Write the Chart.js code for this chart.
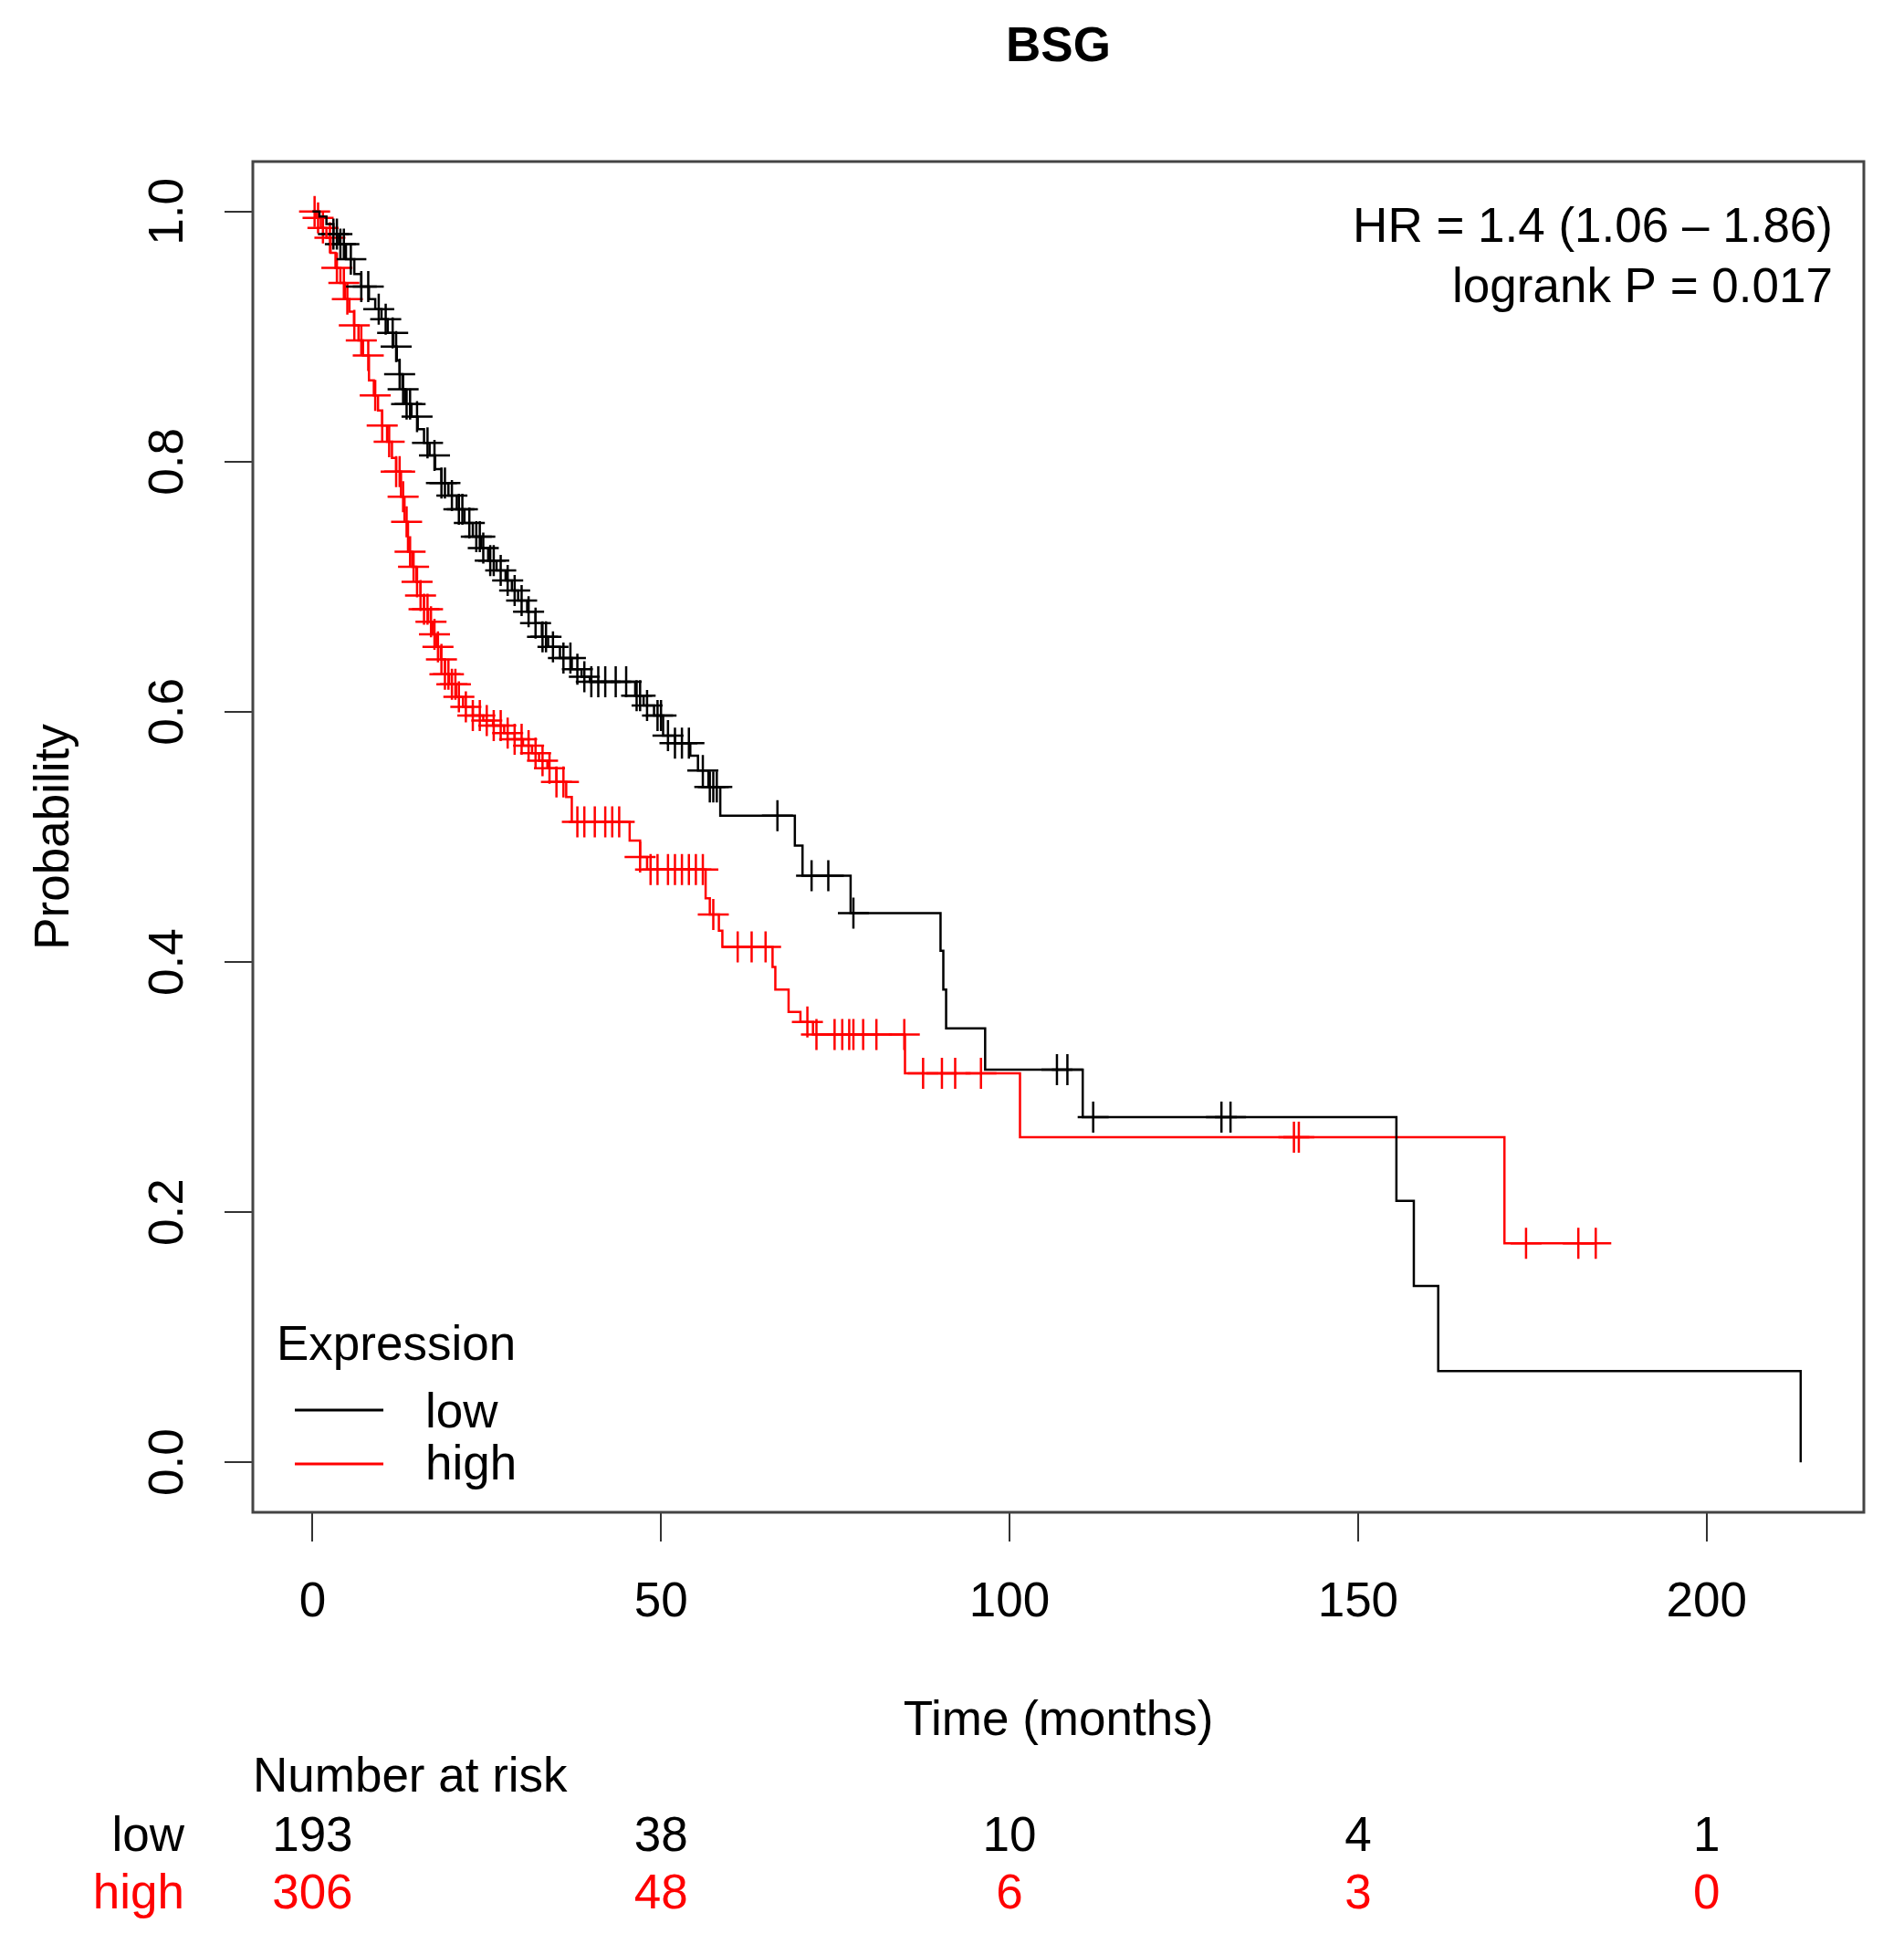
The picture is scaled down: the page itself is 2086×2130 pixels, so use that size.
<!DOCTYPE html>
<html lang="en">
<head>
<meta charset="UTF-8">
<title>BSG survival</title>
<script src="https://cdn.jsdelivr.net/npm/chart.js"></script>
<style>
  html, body { margin: 0; padding: 0; background: #fff; }
  canvas { display: block; }
</style>
</head>
<body>
<canvas id="km" width="2086" height="2130" style="width:2086px;height:2130px"></canvas>
<script>
// Kaplan-Meier steps (time in months, survival after the drop)
const lowTime = [0, 1, 2, 3, 3.8, 4.8, 6, 7, 8.1, 9, 9.9, 10.8, 11.6, 12.1, 12.5, 12.9, 13.3, 14.2, 15.1, 16, 16.8, 17.6, 18.5, 19.5, 20.7, 21.8, 23, 24.2, 25.2, 26.4, 27.7, 28.6, 29.5, 30.8, 32, 32.9, 33.8, 35.5, 37.2, 38.6, 39.8, 46.3, 47.5, 49, 50.3, 52, 54.2, 55.3, 56.8, 58.5, 69.2, 70.3, 77.2, 90.1, 90.5, 90.9, 96.5, 110.5, 155.5, 158, 161.5, 213.5];
const lowSurv = [1, 0.996, 0.99, 0.982, 0.974, 0.962, 0.95, 0.94, 0.93, 0.922, 0.914, 0.903, 0.892, 0.881, 0.87, 0.858, 0.846, 0.836, 0.826, 0.815, 0.805, 0.794, 0.783, 0.773, 0.762, 0.751, 0.74, 0.731, 0.721, 0.713, 0.705, 0.697, 0.689, 0.68, 0.671, 0.66, 0.652, 0.643, 0.634, 0.628, 0.624, 0.613, 0.605, 0.597, 0.581, 0.575, 0.565, 0.553, 0.54, 0.517, 0.493, 0.469, 0.439, 0.409, 0.378, 0.347, 0.314, 0.276, 0.209, 0.141, 0.073, 0];
const lowCensor = [3, 3.5, 4, 4.5, 5.5, 7, 8, 9.5, 10.5, 11.5, 12, 12.5, 13, 13.5, 14, 15, 16.5, 17.5, 18.5, 19, 20, 21, 21.5, 22.5, 23.5, 24, 24.5, 25.5, 26, 27, 28, 29, 30, 31, 32, 33, 33.5, 34.5, 36, 37, 38, 39, 40, 41, 42, 43.5, 45, 46.5, 47, 48, 49.5, 50, 51, 52, 53, 54, 56, 57, 57.5, 58, 66.7, 71.6, 74, 77.6, 106.8, 108.3, 112, 130.4, 131.7];

const highTime = [0, 0.5, 1.2, 2, 2.6, 3.3, 4, 4.65, 5.3, 5.95, 6.6, 7.25, 8.1, 8.8, 9.4, 10, 10.7, 11.4, 12, 12.7, 13.2, 13.7, 14.3, 14.9, 15.5, 16, 16.6, 17.2, 17.8, 18.4, 19, 19.6, 20.6, 21.6, 23, 24.5, 25.9, 27.5, 29, 30.2, 31.5, 32.5, 33.7, 35, 36.4, 37.2, 45.5, 47, 48, 56.4, 57, 58.3, 58.8, 66, 66.4, 68.3, 70, 71.8, 85, 101.5, 171];
const highSurv = [1, 0.995, 0.987, 0.979, 0.967, 0.955, 0.943, 0.93, 0.92, 0.909, 0.897, 0.885, 0.865, 0.853, 0.841, 0.829, 0.816, 0.803, 0.792, 0.772, 0.752, 0.728, 0.716, 0.704, 0.693, 0.682, 0.672, 0.662, 0.652, 0.642, 0.63, 0.622, 0.612, 0.604, 0.597, 0.593, 0.589, 0.583, 0.578, 0.573, 0.567, 0.561, 0.555, 0.544, 0.532, 0.512, 0.497, 0.484, 0.474, 0.451, 0.438, 0.425, 0.412, 0.396, 0.378, 0.36, 0.352, 0.342, 0.311, 0.26, 0.175];
const highCensor = [0.3, 0.8, 1.5, 2.5, 3.5, 4.5, 5, 6, 7, 8, 9, 10, 11, 12, 12.5, 13, 13.5, 14, 14.5, 15, 15.5, 16, 16.5, 17, 17.5, 18, 18.5, 19, 19.5, 20, 20.5, 21, 22, 23, 24, 25, 26, 27, 28, 29, 30, 31, 32, 33, 34, 35, 36, 38, 39, 40.5, 42, 43, 44, 47, 48.5, 49.5, 51, 52, 53, 54, 55, 56, 57.5, 61, 63, 65, 71, 72.3, 74.9, 76, 77, 77.6, 79, 80.9, 84.9, 87.6, 90.3, 92.2, 95.9, 140.8, 141.5, 174.1, 181.6, 184.1];

// axes and number-at-risk table
const xTicks = [0, 50, 100, 150, 200];
const yTicks = [0, 0.2, 0.4, 0.6, 0.8, 1.0];
const yTickLabels = ['0.0', '0.2', '0.4', '0.6', '0.8', '1.0'];
const riskTimes = [0, 50, 100, 150, 200];
const riskLow = [193, 38, 10, 4, 1];
const riskHigh = [306, 48, 6, 3, 0];

const FONT = '"Liberation Sans", Arial, Helvetica, sans-serif';
const RED = '#ff0000';

function survAt(times, surv, t) {
  let s = 1;
  for (let i = 0; i < times.length; i++) if (times[i] <= t) s = surv[i];
  return s;
}

function curve(times, surv, censor) {
  const pts = times.map((t, i) => ({x: t, y: surv[i]}));
  const lastC = Math.max(...censor);
  if (lastC > times[times.length - 1]) pts.push({x: lastC, y: surv[surv.length - 1]});
  return pts;
}

function marks(times, surv, censor) {
  return censor.map(t => ({x: t, y: survAt(times, surv, t)}));
}

// plot frame, rotated y labels, legend, annotation and risk table
const decor = {
  id: 'decor',
  afterDraw(chart) {
    const ctx = chart.ctx;
    const a = chart.chartArea;
    const xs = chart.scales.x, ys = chart.scales.y;
    ctx.save();
    ctx.strokeStyle = '#444';
    ctx.lineWidth = 3;
    ctx.strokeRect(a.left, a.top, a.right - a.left, a.bottom - a.top);

    ctx.fillStyle = '#000';
    ctx.font = 'bold 53px ' + FONT;
    ctx.textAlign = 'center';
    ctx.textBaseline = 'alphabetic';
    ctx.fillText('BSG', (a.left + a.right) / 2, 67);

    ctx.font = '53px ' + FONT;
    // y tick labels, parallel to the axis
    yTicks.forEach((v, i) => {
      ctx.save();
      ctx.translate(200, ys.getPixelForValue(v));
      ctx.rotate(-Math.PI / 2);
      ctx.textAlign = 'center';
      ctx.fillText(yTickLabels[i], 0, 0);
      ctx.restore();
    });
    ctx.save();
    ctx.translate(75, (a.top + a.bottom) / 2);
    ctx.rotate(-Math.PI / 2);
    ctx.textAlign = 'center';
    ctx.fillText('Probability', 0, 0);
    ctx.restore();

    ctx.textAlign = 'center';
    ctx.fillText('Time (months)', (a.left + a.right) / 2, 1901);

    ctx.textAlign = 'right';
    ctx.fillText('HR = 1.4 (1.06 \u2013 1.86)', 2008, 265);
    ctx.fillText('logrank P = 0.017', 2008, 331);

    // legend
    ctx.textAlign = 'left';
    ctx.fillText('Expression', 303, 1490);
    ctx.fillText('low', 466, 1564);
    ctx.fillText('high', 466, 1621);
    ctx.lineWidth = 3;
    ctx.strokeStyle = '#000';
    ctx.beginPath(); ctx.moveTo(323, 1545); ctx.lineTo(420, 1545); ctx.stroke();
    ctx.strokeStyle = RED;
    ctx.beginPath(); ctx.moveTo(323, 1604); ctx.lineTo(420, 1604); ctx.stroke();

    // number at risk
    ctx.fillStyle = '#000';
    ctx.fillText('Number at risk', a.left, 1963);
    ctx.textAlign = 'right';
    ctx.fillText('low', 202, 2028);
    ctx.fillStyle = RED;
    ctx.fillText('high', 202, 2091);
    ctx.textAlign = 'center';
    riskTimes.forEach((t, i) => {
      const px = xs.getPixelForValue(t);
      ctx.fillStyle = '#000';
      ctx.fillText(String(riskLow[i]), px, 2028);
      ctx.fillStyle = RED;
      ctx.fillText(String(riskHigh[i]), px, 2091);
    });
    ctx.restore();
  }
};

new Chart(document.getElementById('km').getContext('2d'), {
  type: 'line',
  data: {
    datasets: [
      {label: 'low', data: curve(lowTime, lowSurv, lowCensor), borderColor: '#000', borderWidth: 2.5,
       stepped: 'before', pointRadius: 0, fill: false},
      {label: 'high', data: curve(highTime, highSurv, highCensor), borderColor: RED, borderWidth: 2.5,
       stepped: 'before', pointRadius: 0, fill: false},
      {type: 'scatter', label: 'low censored', data: marks(lowTime, lowSurv, lowCensor),
       pointStyle: 'cross', pointRadius: 17, borderColor: '#000', borderWidth: 2.5},
      {type: 'scatter', label: 'high censored', data: marks(highTime, highSurv, highCensor),
       pointStyle: 'cross', pointRadius: 17, borderColor: RED, borderWidth: 2.5}
    ]
  },
  options: {
    responsive: false,
    animation: false,
    devicePixelRatio: 1,
    layout: {padding: {left: 0, right: 44, top: 177, bottom: 333}},
    plugins: {legend: {display: false}, tooltip: {enabled: false}, title: {display: false}},
    scales: {
      x: {
        type: 'linear', min: -8.56, max: 222.56,
        afterBuildTicks: s => { s.ticks = xTicks.map(v => ({value: v})); },
        afterFit: s => { s.height = 140; },
        grid: {drawOnChartArea: false, drawTicks: true, tickLength: 32, color: '#333', lineWidth: 2},
        border: {display: false},
        ticks: {padding: 36, color: '#000', font: {family: FONT, size: 53}, maxRotation: 0}
      },
      y: {
        type: 'linear', min: -0.04, max: 1.04,
        afterBuildTicks: s => { s.ticks = yTicks.map(v => ({value: v})); },
        afterFit: s => { s.width = 277; },
        grid: {drawOnChartArea: false, drawTicks: true, tickLength: 31, color: '#333', lineWidth: 2},
        border: {display: false},
        ticks: {display: false}
      }
    }
  },
  plugins: [decor]
});
</script>
</body>
</html>
